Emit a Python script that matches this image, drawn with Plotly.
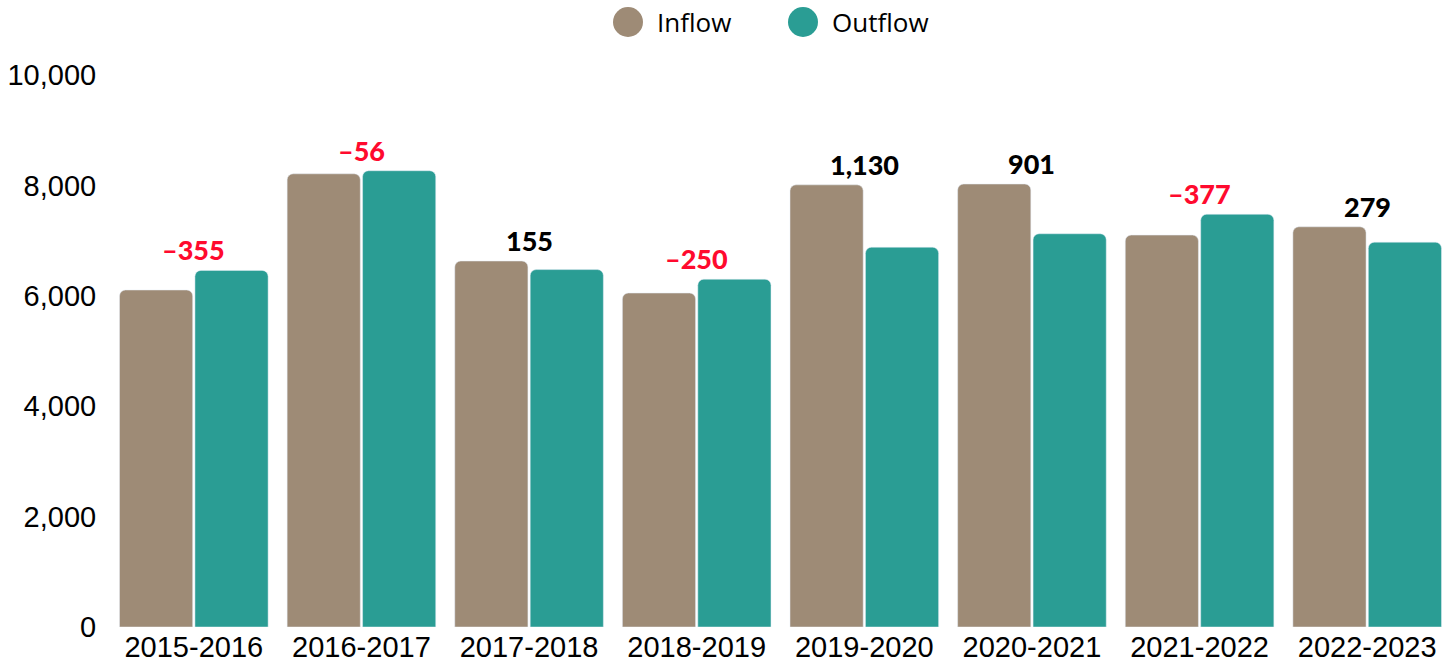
import plotly.graph_objects as go

years = ["2015-2016", "2016-2017", "2017-2018", "2018-2019",
         "2019-2020", "2020-2021", "2021-2022", "2022-2023"]
inflow = [6105, 8210, 6630, 6050, 8010, 8025, 7100, 7250]
outflow = [6460, 8266, 6475, 6300, 6880, 7124, 7477, 6971]
net = [-355, -56, 155, -250, 1130, 901, -377, 279]

INFLOW_C = "#9e8b76"
OUTFLOW_C = "#2a9d94"
RED = "#ff0a2e"

L, R, T, B = 110, 4, 75, 44
PW, PH = 1455 - L - R, 671 - T - B

fig = go.Figure()
fig.add_trace(go.Bar(x=years, y=inflow, name="Inflow", marker=dict(color=INFLOW_C, cornerradius=6),
                     showlegend=False))
fig.add_trace(go.Bar(x=years, y=outflow, name="Outflow", marker=dict(color=OUTFLOW_C, cornerradius=6),
                     showlegend=False))

for yr, a, b, n in zip(years, inflow, outflow, net):
    txt = f"{n:,}" if n >= 0 else "–" + f"{abs(n):,}"
    fig.add_annotation(x=yr, y=max(a, b), text=txt, showarrow=False, yanchor="bottom",
                       yshift=2, font=dict(family="Lato", size=27, weight=900,
                                           color=RED if n < 0 else "#000000"))

# legend drawn manually with large circles
legend_items = [("Inflow", INFLOW_C, 628), ("Outflow", OUTFLOW_C, 803)]
for name, col, px in legend_items:
    fig.add_shape(type="circle", xref="paper", yref="paper", xsizemode="pixel", ysizemode="pixel",
                  xanchor=(px - L) / PW, yanchor=1 + (T - 22) / PH,
                  x0=-15, x1=15, y0=-15, y1=15, fillcolor=col, line=dict(width=0))
    fig.add_annotation(xref="paper", yref="paper", x=(px + 27 - L) / PW, y=1 + (T - 22) / PH,
                       text=name, showarrow=False, xanchor="left", yanchor="middle",
                       font=dict(family="Open Sans", size=26, color="#000000"))

fig.update_layout(
    width=1455, height=671,
    margin=dict(l=L, r=R, t=T, b=B),
    paper_bgcolor="white", plot_bgcolor="white",
    barmode="group", bargap=0.1, bargroupgap=0.03,
    showlegend=False,
    xaxis=dict(showgrid=False, showline=False, ticks="",
               tickfont=dict(family="Liberation Sans", size=29, color="#000000")),
    yaxis=dict(range=[0, 10000], tickvals=[0, 2000, 4000, 6000, 8000, 10000], tickformat=",",
               showgrid=False, zeroline=False, showline=False, ticks="outside", ticklen=7,
               tickcolor="rgba(0,0,0,0)",
               tickfont=dict(family="Liberation Sans", size=29, color="#000000")),
)

fig.write_html("out.html", config={"displayModeBar": False},
               post_script="document.body.style.margin='0px';")
